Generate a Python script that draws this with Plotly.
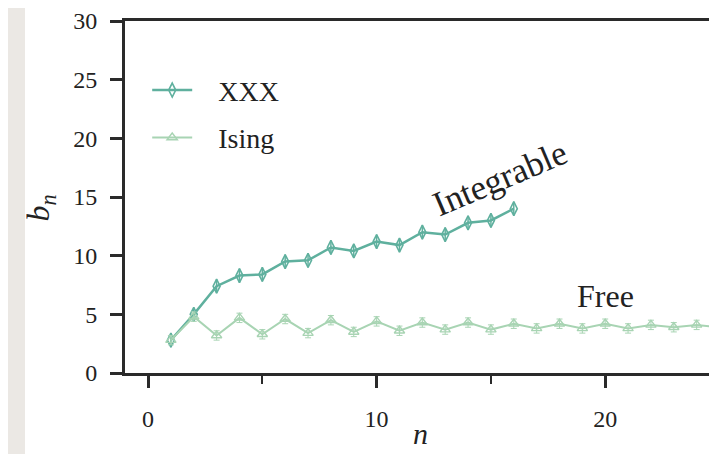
import plotly.graph_objects as go

n_xxx = list(range(1, 17))
b_xxx = [2.8, 5.0, 7.4, 8.3, 8.4, 9.5, 9.6, 10.7, 10.4, 11.2, 10.9, 12.0, 11.8, 12.8, 13.0, 14.0]

n_ising = list(range(1, 27))
b_ising = [2.8, 4.8, 3.2, 4.7, 3.3, 4.6, 3.4, 4.5, 3.5, 4.4, 3.6, 4.3, 3.7, 4.3, 3.7,
           4.2, 3.8, 4.2, 3.8, 4.2, 3.8, 4.1, 3.9, 4.1, 3.9, 4.1]

x_ticks = [0, 10, 20]
y_ticks = [0, 5, 10, 15, 20, 25, 30]

FONT = "Liberation Serif"
C_XXX = "#5fb09e"
C_ISING = "#a8d4b3"
INK = "#222"

fig = go.Figure()
fig.add_trace(go.Scatter(
    x=n_xxx, y=b_xxx, name="\u00a0\u00a0\u00a0XXX", mode="lines+markers", legendgroup="a",
    line=dict(color=C_XXX, width=2.5),
    marker=dict(symbol="diamond-tall-open", size=10, color=C_XXX, line=dict(width=1.6)),
    error_y=dict(type="constant", value=0.6, color=C_XXX, thickness=1.5, width=0),
))
fig.add_trace(go.Scatter(
    x=n_ising, y=b_ising, name="\u00a0\u00a0\u00a0Ising", mode="lines+markers", legendgroup="b",
    line=dict(color=C_ISING, width=2),
    marker=dict(symbol="triangle-up-open", size=9, color=C_ISING, line=dict(width=1.4)),
    error_y=dict(type="constant", value=0.4, color=C_ISING, thickness=1, width=3),
))

axis_common = dict(
    showgrid=False, zeroline=False, showline=True, linecolor="#2a2a2a", linewidth=3,
    ticks="outside", ticklen=12, tickwidth=2.5, tickcolor="#2a2a2a",
    tickfont=dict(family=FONT, size=24, color=INK),
)

fig.update_layout(
    width=717, height=454,
    margin=dict(l=117, r=0, t=13, b=89),
    paper_bgcolor="white", plot_bgcolor="white",
    font=dict(family=FONT, color=INK),
    showlegend=True,
    legend=dict(x=0.037, y=0.874, xanchor="left", yanchor="top",
                bgcolor="rgba(0,0,0,0)", font=dict(family=FONT, size=28, color=INK),
                tracegroupgap=8, traceorder="grouped", itemwidth=40),
    xaxis=dict(range=[-1.007, 25.24], tickvals=x_ticks, mirror=True, ticklabelstandoff=10,
               minor=dict(dtick=5, tick0=0, ticks="outside", ticklen=8, tickwidth=1.5, tickcolor="#2a2a2a"),
               **axis_common),
    yaxis=dict(range=[0, 30], tickvals=y_ticks, ticklabelstandoff=8,
               **axis_common),
    shapes=[
        dict(type="rect", xref="paper", yref="paper", x0=-0.25, x1=-0.1667, y0=-0.5, y1=1.2,
             fillcolor="#ebe8e4", line=dict(width=0), layer="below"),
    ],
    annotations=[
        dict(x=-0.14, y=0.47, xref="paper", yref="paper", xanchor="center", yanchor="middle",
             text="<i>b</i><sub><i>n</i></sub>",
             textangle=-90, showarrow=False, font=dict(family=FONT, size=32, color=INK)),
        dict(x=0.493, y=-0.173, xref="paper", yref="paper", xanchor="center", yanchor="middle",
             text="<i>n</i>", showarrow=False, font=dict(family=FONT, size=30, color=INK)),
        dict(x=15.4, y=16.6, xref="x", yref="y", text="Integrable", textangle=-23,
             showarrow=False, font=dict(family=FONT, size=35, color=INK)),
        dict(x=20.0, y=6.6, xref="x", yref="y", text="Free",
             showarrow=False, font=dict(family=FONT, size=32, color=INK)),
    ],
)

fig.write_html("out.html")
